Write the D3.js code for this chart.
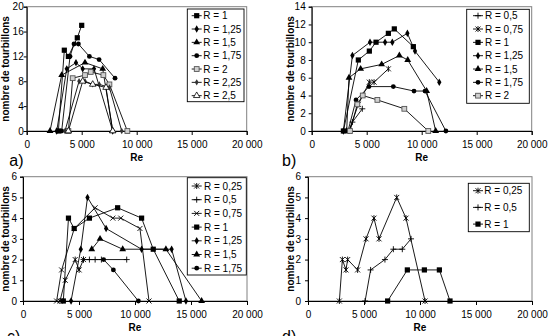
<!DOCTYPE html>
<html><head><meta charset="utf-8">
<script src="https://cdn.jsdelivr.net/npm/d3@7"></script>
<style>body{margin:0;background:#fff}svg{display:block;font-family:"Liberation Sans",Arial,sans-serif}</style>
</head><body><svg id="chart" width="553" height="336"></svg>
<script>
// ---------- DATA ----------
const reTicks = [0, 5000, 10000, 15000, 20000];
const reTickLabels = ["0", "5 000", "10 000", "15 000", "20 000"];
const xTitle = "Re";
const yTitle = "nombre de tourbillons";

// panel a)
const labelsA = ["R = 1", "R = 1,25", "R = 1,5", "R = 1,75", "R = 2", "R = 2,25", "R = 2,5"];
const reA = [
  [2880, 3420, 3790, 4600, 5000],
  [2730, 3640, 4480, 5090, 6120, 7820],
  [2120, 3180, 5300, 6910, 7820],
  [3180, 3940, 4300, 4700, 5700, 6580, 8030],
  [3790, 4180, 5300, 5820, 6970, 7520, 9150],
  [3480, 4760, 5300, 6000, 6600, 7520, 8640],
  [3790, 5090, 6000, 7210, 7820]
];
const nA = [
  [0, 13, 12, 15, 17],
  [0, 10, 11, 10, 10, 0],
  [0, 9, 11, 10, 0],
  [0, 12, 14, 14, 12, 11.5, 8.5],
  [0, 8.5, 9, 9.5, 9, 7.5, 0],
  [0, 8, 8, 7.5, 7.5, 7, 0],
  [0, 8, 7.5, 7, 0]
];
const yTicksA = [0, 4, 8, 12, 16, 20];

// panel b)
const labelsB = ["R = 0,5", "R = 0,75", "R = 1", "R = 1,25", "R = 1,5", "R = 1,75", "R = 2"];
const reB = [
  [3390, 3700, 4600],
  [3390, 4240, 5240, 5670, 6970],
  [2880, 4240, 5240, 5850, 6970, 7510, 9240],
  [2880, 3700, 5300, 6670, 7330, 8700, 9390, 11600],
  [3180, 3390, 4450, 6360, 7970, 8730, 10450, 11270],
  [3300, 4030, 5210, 7420, 9300, 10300, 12200],
  [3480, 4150, 4640, 5970, 8420, 10600]
];
const nB = [
  [0, 1, 2.5],
  [0, 3, 5.5, 5.5, 7],
  [0, 8, 9, 10, 11, 11.5, 9.5],
  [0, 8.5, 10, 10, 10, 11, 9, 5.5],
  [0, 6, 7, 7.5, 8.5, 8, 4.5, 0],
  [0, 3.5, 5, 5, 4.5, 4.5, 0],
  [0, 3, 4, 3.5, 2.5, 0]
];
const yTicksB = [0, 2, 4, 6, 8, 10, 12, 14];

// panel c)
const labelsC = ["R = 0,25", "R = 0,5", "R = 0,75", "R = 1", "R = 1,25", "R = 1,5", "R = 1,75"];
const reC = [
  [3300, 3770, 4660, 5010, 5400],
  [5400, 5930, 6440, 7000, 9260],
  [3000, 3450, 4580, 6440, 8020, 8730, 10440, 11250],
  [3600, 4060, 4570, 5930, 8450, 10590, 11630, 13950],
  [4290, 5160, 5760, 7420, 10590, 13270, 14550],
  [6140, 6880, 8900, 12760, 15950],
  [7200, 8070, 10300]
];
const nC = [
  [0, 1, 2, 1.5, 2],
  [2, 2, 2, 2, 2],
  [0, 1.5, 3.5, 4.5, 4, 4, 3.5, 0],
  [0, 4, 3.5, 4, 4.5, 4, 2.5, 0],
  [0, 2.5, 5, 3.5, 2.5, 2.5, 0],
  [2.5, 3, 2.5, 2.5, 0],
  [2, 1.5, 0]
];
const yTicksC = [0, 1, 2, 3, 4, 5, 6];

// panel d)
const labelsD = ["R = 0,25", "R = 0,5", "R = 1"];
const reD = [
  [2800, 3070, 3390, 3540, 4430, 5180, 5890, 6340, 7920, 8750, 10450],
  [5100, 5590, 6870, 7620, 8420, 9200],
  [7110, 8870, 10390, 11730, 12680]
];
const nD = [
  [0, 2, 1.5, 2, 1.5, 3, 4, 3, 5, 4, 0],
  [0, 1.5, 2, 2.5, 2.5, 3],
  [0, 1.5, 1.5, 1.5, 0]
];
const yTicksD = [0, 1, 2, 3, 4, 5, 6];

// ---------- LAYOUT / STYLE ----------
const panels = [
  {labels: labelsA, re: reA, n: nA, yTicks: yTicksA, tag: "a)",
   markers: ["square", "diamond", "triangle", "circle", "squareOpen", "diamondSmall", "triangleOpen"],
   x0: 26.7, x1: 246.7, top: 6.7, bottom: 131, yLabX: 8.6, yPad: 0, tagX: 9.3, tagY: 165.5,
   leg: {x: 187.3, y: 9, w: 56.7, h: 92.7, r0: 15.7, dr: 13.33, mx: 196.7, tx: 203.3}},
  {labels: labelsB, re: reB, n: nB, yTicks: yTicksB, tag: "b)",
   markers: ["plus", "star", "square", "diamond", "triangle", "circle", "squareOpen"],
   x0: 311.7, x1: 531.7, top: 6.7, bottom: 131, yLabX: 293.6, yPad: 3, tagX: 282, tagY: 165.5,
   leg: {x: 466.7, y: 9.3, w: 62.6, h: 94, r0: 15.7, dr: 13.33, mx: 478, tx: 485}},
  {labels: labelsC, re: reC, n: nC, yTicks: yTicksC, tag: "c)",
   markers: ["star", "plus", "cross", "square", "diamond", "triangle", "circle"],
   x0: 23, x1: 247, top: 176.7, bottom: 301, yLabX: 8.6, yPad: 3, tagX: 7, tagY: 341.5,
   leg: {x: 187.3, y: 177.7, w: 59, h: 97.3, r0: 186, dr: 13.7, mx: 196.7, tx: 204}},
  {labels: labelsD, re: reD, n: nD, yTicks: yTicksD, tag: "d)",
   markers: ["star", "plus", "square"],
   x0: 308, x1: 532, top: 176.7, bottom: 301, yLabX: 293.6, yPad: 4, tagX: 282, tagY: 341.5,
   leg: {x: 468.3, y: 183.3, w: 61, h: 48.4, r0: 190.7, dr: 16.7, mx: 478, tx: 484.3}}
];

const svg = d3.select("#chart");
const FONT = '"Liberation Sans", Arial, sans-serif';

function marker(g, type, x, y) {
  const sym = (t, s) => g.append("path").attr("transform", `translate(${x},${y})`).attr("d", d3.symbol(t, s)());
  switch (type) {
    case "square":
      g.append("rect").attr("x", x - 2.6).attr("y", y - 2.6).attr("width", 5.2).attr("height", 5.2).attr("fill", "#000"); break;
    case "diamond":
      sym(d3.symbolDiamond, 16).attr("fill", "#000"); break;
    case "diamondSmall":
      sym(d3.symbolDiamond, 12).attr("fill", "#333"); break;
    case "triangle":
      sym(d3.symbolTriangle, 20).attr("fill", "#000"); break;
    case "triangleOpen":
      sym(d3.symbolTriangle, 18).attr("fill", "#fff").attr("stroke", "#000").attr("stroke-width", 0.8); break;
    case "circle":
      g.append("circle").attr("cx", x).attr("cy", y).attr("r", 2.4).attr("fill", "#000"); break;
    case "squareOpen":
      g.append("rect").attr("x", x - 2.4).attr("y", y - 2.4).attr("width", 4.8).attr("height", 4.8)
        .attr("fill", "#d0d0d0").attr("stroke", "#555").attr("stroke-width", 0.9); break;
    case "plus":
      g.append("path").attr("d", `M${x - 3},${y}H${x + 3}M${x},${y - 3}V${y + 3}`).attr("stroke", "#000").attr("stroke-width", 0.9); break;
    case "cross":
      g.append("path").attr("d", `M${x - 2.5},${y - 2.5}L${x + 2.5},${y + 2.5}M${x - 2.5},${y + 2.5}L${x + 2.5},${y - 2.5}`).attr("stroke", "#000").attr("stroke-width", 0.9); break;
    case "star":
      g.append("path").attr("d", `M${x - 2.5},${y - 2.5}L${x + 2.5},${y + 2.5}M${x - 2.5},${y + 2.5}L${x + 2.5},${y - 2.5}M${x},${y - 3}V${y + 3}`).attr("stroke", "#000").attr("stroke-width", 0.9); break;
  }
}

panels.forEach(p => {
  const g = svg.append("g");
  const ymax = p.yTicks[p.yTicks.length - 1];
  const x = d3.scaleLinear().domain([0, 20000]).range([p.x0, p.x1]);
  const y = d3.scaleLinear().domain([0, ymax]).range([p.bottom, p.top]);

  // plot area border
  g.append("rect").attr("x", p.x0).attr("y", p.top).attr("width", p.x1 - p.x0).attr("height", p.bottom - p.top)
    .attr("fill", "none").attr("stroke", "#808080").attr("stroke-width", 1);

  // axes
  const ax = g.append("g").attr("transform", `translate(0,${p.bottom})`)
    .call(d3.axisBottom(x).tickValues(reTicks).tickFormat((d, i) => reTickLabels[i]).tickSize(4).tickPadding(6));
  const ay = g.append("g").attr("transform", `translate(${p.x0},0)`)
    .call(d3.axisLeft(y).tickValues(p.yTicks).tickFormat(d3.format("d")).tickSize(3).tickPadding(p.yPad));
  [ax, ay].forEach(a => {
    a.attr("font-family", FONT).attr("font-size", 10);
    a.selectAll("path,line").attr("stroke", "#000");
    a.selectAll("text").attr("fill", "#000");
  });

  // titles
  g.append("text").attr("x", (p.x0 + p.x1) / 2).attr("y", p.bottom + 29.5).attr("text-anchor", "middle")
    .attr("font-size", 10).attr("font-weight", "bold").text(xTitle);
  g.append("text").attr("transform", `translate(${p.yLabX},${(p.top + p.bottom) / 2}) rotate(-90)`)
    .attr("text-anchor", "middle").attr("font-size", 10).attr("font-weight", "bold").text(yTitle);
  g.append("text").attr("x", p.tagX).attr("y", p.tagY).attr("font-size", 16).text(p.tag);

  // series
  const line = d3.line().x(d => x(d[0])).y(d => y(d[1]));
  p.re.forEach((reArr, si) => {
    const pts = reArr.map((r, i) => [r, p.n[si][i]]);
    g.append("path").attr("d", line(pts)).attr("fill", "none").attr("stroke", "#000").attr("stroke-width", 0.9);
    const mg = g.append("g");
    pts.forEach(d => marker(mg, p.markers[si], x(d[0]), y(d[1])));
  });

  // legend
  const L = p.leg;
  g.append("rect").attr("x", L.x).attr("y", L.y).attr("width", L.w).attr("height", L.h)
    .attr("fill", "#fff").attr("stroke", "#000").attr("stroke-width", 0.9);
  p.labels.forEach((lab, i) => {
    const yy = L.r0 + i * L.dr;
    g.append("line").attr("x1", L.mx - 5).attr("x2", L.mx + 5).attr("y1", yy).attr("y2", yy)
      .attr("stroke", "#000").attr("stroke-width", 0.9);
    marker(g, p.markers[i], L.mx, yy);
    g.append("text").attr("x", L.tx).attr("y", yy).attr("dy", "0.35em").attr("font-size", 10).text(lab);
  });
});
</script></body></html>
